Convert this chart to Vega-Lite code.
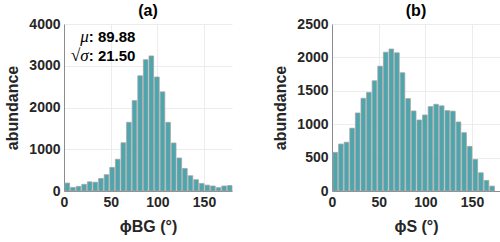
{
  "$schema": "https://vega.github.io/schema/vega-lite/v6.json",
  "padding": {"left": 4, "top": 3, "right": 0, "bottom": 2},
  "background": "white",
  "config": {
    "view": {"stroke": null},
    "font": "Liberation Sans",
    "axis": {
      "labelFont": "Liberation Sans",
      "labelFontSize": 14,
      "labelFontWeight": "bold",
      "labelColor": "#262626",
      "titleFont": "Liberation Sans",
      "titleFontSize": 16,
      "titleFontWeight": "bold",
      "titleColor": "#262626",
      "domainColor": "#8c8c8c",
      "domainWidth": 1,
      "gridColor": "#ececec",
      "gridWidth": 1,
      "ticks": false,
      "labelPadding": 4,
      "format": "d"
    },
    "title": {"fontSize": 16, "fontWeight": "bold", "color": "#000000", "font": "Liberation Sans", "offset": -2},
    "concat": {"spacing": 39}
  },
  "datasets": {
    "a": [
      {"start": 0, "end": 6, "count": 190}, {"start": 6, "end": 12, "count": 85}, {"start": 12, "end": 18, "count": 110},
      {"start": 18, "end": 24, "count": 160}, {"start": 24, "end": 30, "count": 220}, {"start": 30, "end": 36, "count": 210},
      {"start": 36, "end": 42, "count": 300}, {"start": 42, "end": 48, "count": 390}, {"start": 48, "end": 54, "count": 565},
      {"start": 54, "end": 60, "count": 760}, {"start": 60, "end": 66, "count": 1155}, {"start": 66, "end": 72, "count": 1645},
      {"start": 72, "end": 78, "count": 2165}, {"start": 78, "end": 84, "count": 2760}, {"start": 84, "end": 90, "count": 3145},
      {"start": 90, "end": 96, "count": 3235}, {"start": 96, "end": 102, "count": 2730}, {"start": 102, "end": 108, "count": 2375},
      {"start": 108, "end": 114, "count": 1645}, {"start": 114, "end": 120, "count": 1150}, {"start": 120, "end": 126, "count": 790},
      {"start": 126, "end": 132, "count": 540}, {"start": 132, "end": 138, "count": 365}, {"start": 138, "end": 144, "count": 270},
      {"start": 144, "end": 150, "count": 180}, {"start": 150, "end": 156, "count": 140}, {"start": 156, "end": 162, "count": 120},
      {"start": 162, "end": 168, "count": 80}, {"start": 168, "end": 174, "count": 120}, {"start": 174, "end": 180, "count": 130}
    ],
    "b": [
      {"start": 0, "end": 6, "count": 578}, {"start": 6, "end": 12, "count": 703}, {"start": 12, "end": 18, "count": 730},
      {"start": 18, "end": 24, "count": 940}, {"start": 24, "end": 30, "count": 1168}, {"start": 30, "end": 36, "count": 1388},
      {"start": 36, "end": 42, "count": 1475}, {"start": 42, "end": 48, "count": 1650}, {"start": 48, "end": 54, "count": 1868},
      {"start": 54, "end": 60, "count": 2078}, {"start": 60, "end": 66, "count": 2125}, {"start": 66, "end": 72, "count": 2068},
      {"start": 72, "end": 78, "count": 1770}, {"start": 78, "end": 84, "count": 1383}, {"start": 84, "end": 90, "count": 1198},
      {"start": 90, "end": 96, "count": 1063}, {"start": 96, "end": 102, "count": 1138}, {"start": 102, "end": 108, "count": 1263},
      {"start": 108, "end": 114, "count": 1298}, {"start": 114, "end": 120, "count": 1275}, {"start": 120, "end": 126, "count": 1203},
      {"start": 126, "end": 132, "count": 1195}, {"start": 132, "end": 138, "count": 1033}, {"start": 138, "end": 144, "count": 873},
      {"start": 144, "end": 150, "count": 668}, {"start": 150, "end": 156, "count": 473}, {"start": 156, "end": 162, "count": 273},
      {"start": 162, "end": 168, "count": 158}, {"start": 168, "end": 174, "count": 73}
    ],
    "one": [{}]
  },
  "hconcat": [
    {
      "title": "(a)",
      "width": 168,
      "height": 167,
      "layer": [
        {
          "data": {"name": "a"},
          "mark": {"type": "bar", "fill": "#4ba6ae", "stroke": "#a3a3a3", "strokeWidth": 0.8},
          "encoding": {
            "x": {"field": "start", "type": "quantitative", "bin": "binned",
                  "scale": {"domain": [0, 180], "nice": false},
                  "axis": {"values": [0, 50, 100, 150], "title": "ϕBG (°)", "titlePadding": 9, "labelFlush": false, "grid": true}},
            "x2": {"field": "end"},
            "y": {"field": "count", "type": "quantitative",
                  "scale": {"domain": [0, 4000], "nice": false},
                  "axis": {"values": [0, 1000, 2000, 3000, 4000], "title": "abundance", "titlePadding": 8, "grid": true}}
          }
        },
        {
          "data": {"name": "one"},
          "mark": {"type": "text", "align": "right", "baseline": "middle", "font": "Liberation Serif", "fontStyle": "italic", "fontSize": 17, "color": "#000000"},
          "encoding": {"x": {"datum": 26.5, "type": "quantitative"}, "y": {"datum": 3700, "type": "quantitative"}, "text": {"value": "μ"}}
        },
        {
          "data": {"name": "one"},
          "mark": {"type": "text", "align": "right", "baseline": "middle", "font": "Liberation Serif", "fontStyle": "italic", "fontSize": 17, "color": "#000000"},
          "encoding": {"x": {"datum": 26.5, "type": "quantitative"}, "y": {"datum": 3240, "type": "quantitative"}, "text": {"value": "√σ"}}
        },
        {
          "data": {"name": "one"},
          "mark": {"type": "text", "align": "left", "baseline": "middle", "font": "Liberation Sans", "fontWeight": "bold", "fontSize": 15, "color": "#000000"},
          "encoding": {"x": {"datum": 26.5, "type": "quantitative"}, "y": {"datum": 3700, "type": "quantitative"}, "text": {"value": ": 89.88"}}
        },
        {
          "data": {"name": "one"},
          "mark": {"type": "text", "align": "left", "baseline": "middle", "font": "Liberation Sans", "fontWeight": "bold", "fontSize": 15, "color": "#000000"},
          "encoding": {"x": {"datum": 26.5, "type": "quantitative"}, "y": {"datum": 3240, "type": "quantitative"}, "text": {"value": ": 21.50"}}
        }
      ]
    },
    {
      "title": "(b)",
      "width": 168,
      "height": 167,
      "data": {"name": "b"},
      "mark": {"type": "bar", "fill": "#4ba6ae", "stroke": "#a3a3a3", "strokeWidth": 0.8},
      "encoding": {
        "x": {"field": "start", "type": "quantitative", "bin": "binned",
              "scale": {"domain": [0, 180], "nice": false},
              "axis": {"values": [0, 50, 100, 150], "title": "ϕS (°)", "titlePadding": 9, "labelFlush": false, "grid": true}},
        "x2": {"field": "end"},
        "y": {"field": "count", "type": "quantitative",
              "scale": {"domain": [0, 2500], "nice": false},
              "axis": {"values": [0, 500, 1000, 1500, 2000, 2500], "title": "abundance", "titlePadding": 8, "grid": true}}
      }
    }
  ]
}
